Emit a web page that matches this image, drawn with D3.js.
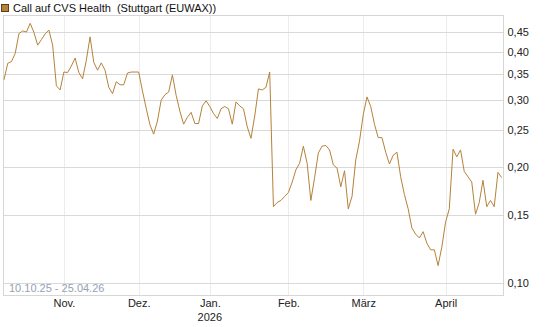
<!DOCTYPE html>
<html><head><meta charset="utf-8">
<script src="https://cdn.jsdelivr.net/npm/d3@7"></script>
<style>
body{margin:0;background:#fff;}
svg{display:block;font-family:"Liberation Sans",Arial,sans-serif;}
</style></head>
<body><svg id="c" width="545" height="327"></svg>
<script>
const title = "Call auf CVS Health  (Stuttgart (EUWAX))";
const rangeLabel = "10.10.25 - 25.04.26";
const dates = [
"2025-10-10","2025-10-13","2025-10-14","2025-10-15","2025-10-16","2025-10-17","2025-10-20","2025-10-21","2025-10-22","2025-10-23","2025-10-24","2025-10-27","2025-10-28","2025-10-29","2025-10-30","2025-10-31",
"2025-11-03","2025-11-04","2025-11-05","2025-11-06","2025-11-07","2025-11-10","2025-11-11","2025-11-12","2025-11-13","2025-11-14","2025-11-17","2025-11-18","2025-11-19","2025-11-20","2025-11-21","2025-11-24","2025-11-25","2025-11-26","2025-11-27","2025-11-28",
"2025-12-01","2025-12-02","2025-12-03","2025-12-04","2025-12-05","2025-12-08","2025-12-09","2025-12-10","2025-12-11","2025-12-12","2025-12-15","2025-12-16","2025-12-17","2025-12-18","2025-12-19","2025-12-22","2025-12-23","2025-12-29","2025-12-30",
"2026-01-02","2026-01-05","2026-01-06","2026-01-07","2026-01-08","2026-01-09","2026-01-12","2026-01-13","2026-01-14","2026-01-15","2026-01-16","2026-01-19","2026-01-20","2026-01-21","2026-01-22","2026-01-23","2026-01-26","2026-01-27","2026-01-28","2026-01-29","2026-01-30",
"2026-02-02","2026-02-03","2026-02-04","2026-02-05","2026-02-06","2026-02-09","2026-02-10","2026-02-11","2026-02-12","2026-02-13","2026-02-16","2026-02-17","2026-02-18","2026-02-19","2026-02-20","2026-02-23","2026-02-24","2026-02-25","2026-02-26","2026-02-27",
"2026-03-02","2026-03-03","2026-03-04","2026-03-05","2026-03-06","2026-03-09","2026-03-10","2026-03-11","2026-03-12","2026-03-13","2026-03-16","2026-03-17","2026-03-18","2026-03-19","2026-03-20","2026-03-23","2026-03-24","2026-03-25","2026-03-26","2026-03-27","2026-03-30","2026-03-31",
"2026-04-01","2026-04-02","2026-04-07","2026-04-08","2026-04-09","2026-04-10","2026-04-13","2026-04-14","2026-04-15","2026-04-16","2026-04-17","2026-04-20","2026-04-21","2026-04-22","2026-04-23","2026-04-24"
];
const values = [
0.338,0.373,0.377,0.396,0.446,0.453,0.450,0.474,0.449,0.416,0.430,0.445,0.455,0.416,0.326,0.318,
0.354,0.353,0.367,0.385,0.353,0.340,0.380,0.437,0.375,0.358,0.374,0.358,0.323,0.311,0.334,0.328,0.328,0.352,0.354,0.354,
0.354,0.316,0.285,0.258,0.244,0.264,0.299,0.309,0.314,0.348,0.308,0.280,0.259,0.270,0.278,0.260,0.260,0.289,0.298,
0.288,0.276,0.268,0.284,0.288,0.284,0.259,0.296,0.289,0.284,0.255,0.238,0.272,0.320,0.318,0.323,0.354,0.158,0.162,0.164,0.168,
0.172,0.183,0.197,0.205,0.227,0.205,0.164,0.188,0.218,0.227,0.228,0.222,0.203,0.199,0.178,0.196,0.156,0.168,0.209,0.234,
0.274,0.305,0.288,0.259,0.239,0.239,0.219,0.204,0.215,0.219,0.189,0.170,0.156,0.139,0.134,0.131,0.136,0.127,0.122,0.122,0.111,0.124,
0.144,0.156,0.223,0.213,0.222,0.195,0.189,0.183,0.151,0.162,0.185,0.158,0.164,0.158,0.194,0.188
];
const yTicks = [0.10,0.15,0.20,0.25,0.30,0.35,0.40,0.45];
const monthNames = ["Jan.","Feb.","März","April","Mai","Juni","Juli","Aug.","Sep.","Okt.","Nov.","Dez."];

const svg = d3.select("#c");
const L = 3.5, R = 503.5, T = 15.5, B = 295.5;
const x = d3.scalePoint().domain(dates).range([4, 501.7]);
const y = d3.scaleLog().domain([0.10, 0.45]).range([283, 32]);
const fmt = v => d3.format(".2f")(v).replace(".", ",");

// month ticks: first trading day of each month
const monthTicks = dates.filter((d, i) => i > 0 && d.slice(5, 7) !== dates[i - 1].slice(5, 7));

// vertical grid
svg.append("g").selectAll("line").data(monthTicks).join("line")
  .attr("x1", d => Math.round(x(d)) + 0.5).attr("x2", d => Math.round(x(d)) + 0.5)
  .attr("y1", T).attr("y2", B).attr("stroke", "#ececec").attr("stroke-width", 1);
// horizontal grid
svg.append("g").selectAll("line").data(yTicks).join("line")
  .attr("x1", L).attr("x2", R)
  .attr("y1", d => Math.round(y(d)) + 0.5).attr("y2", d => Math.round(y(d)) + 0.5)
  .attr("stroke", "#d9d9d9").attr("stroke-width", 1);
// frame
svg.append("rect").attr("x", L).attr("y", T).attr("width", R - L).attr("height", B - T)
  .attr("fill", "none").attr("stroke", "#d6d6d6").attr("stroke-width", 1);

// y labels via axis
const yAxis = d3.axisRight(y).tickValues(yTicks).tickFormat(fmt).tickSize(0).tickPadding(4);
const ya = svg.append("g").attr("transform", `translate(${R},0)`).call(yAxis);
ya.select(".domain").remove();
ya.selectAll("text").attr("font-size", 11).attr("fill", "#222").attr("font-family", "Liberation Sans, Arial, sans-serif");

// x labels via axis
const xAxis = d3.axisBottom(x).tickValues(monthTicks)
  .tickFormat(d => monthNames[+d.slice(5, 7) - 1]).tickSize(0).tickPadding(4);
const xa = svg.append("g").attr("transform", `translate(0,${B})`).call(xAxis);
xa.select(".domain").remove();
xa.selectAll("text").attr("font-size", 11).attr("fill", "#222").attr("font-family", "Liberation Sans, Arial, sans-serif");
// year under January
const janTick = monthTicks.find(d => d.slice(5, 7) === "01");
svg.append("text").attr("x", x(janTick)).attr("y", 321).attr("text-anchor", "middle")
  .attr("font-size", 11).attr("fill", "#222").text(janTick.slice(0, 4));

// line
const line = d3.line().x((d, i) => x(dates[i])).y(d => y(d));
svg.append("path").datum(values).attr("d", line)
  .attr("fill", "none").attr("stroke", "#b5823a").attr("stroke-width", 1).attr("stroke-linejoin", "miter");

// range label
svg.append("text").attr("x", 9).attr("y", 292).attr("font-size", 11).attr("fill", "#95a1b5").text(rangeLabel);

// legend
svg.append("rect").attr("x", 1.5).attr("y", 4.5).attr("width", 7).attr("height", 7)
  .attr("fill", "#b5823a").attr("stroke", "#5a4020").attr("stroke-width", 1);
svg.append("text").attr("x", 13).attr("y", 11.5).attr("font-size", 11).attr("fill", "#111")
  .style("white-space", "pre").text(title);
</script></body></html>
